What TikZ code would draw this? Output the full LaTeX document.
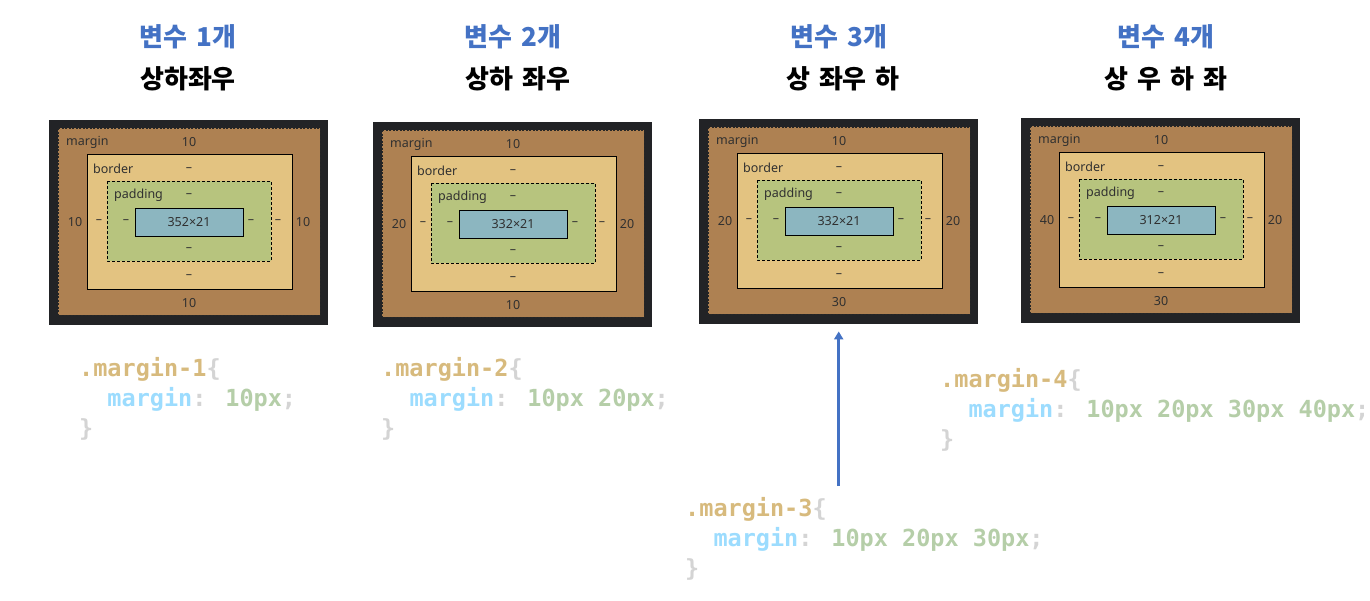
\documentclass[tikz,border=0pt]{standalone}
\usepackage{fontspec}
\setmainfont{Noto Sans}
\newfontfamily\kofont[WordSpace=1.5]{Noto Sans CJK KR}
\newfontfamily\codefont{DejaVu Sans Mono}
\usetikzlibrary{arrows.meta,positioning}

\definecolor{devdark}{HTML}{222326}
\definecolor{margincol}{HTML}{AE8152}
\definecolor{bordercol}{HTML}{E3C381}
\definecolor{paddingcol}{HTML}{B7C47E}
\definecolor{contentcol}{HTML}{8CB6C0}
\definecolor{boxtext}{HTML}{303030}
\definecolor{headblue}{HTML}{4472C4}
\definecolor{csssel}{HTML}{D7BA7D}
\definecolor{cssprop}{HTML}{9CDCFE}
\definecolor{cssnum}{HTML}{B5CEA8}
\definecolor{csspunct}{HTML}{D4D4D4}

\newcommand{\cssSel}[1]{\textcolor{csssel}{#1}}
\newcommand{\cssProp}[1]{\textcolor{cssprop}{#1}}
\newcommand{\cssNum}[1]{\textcolor{cssnum}{#1}}
\newcommand{\cssPunct}[1]{\textcolor{csspunct}{#1}}

\begin{document}
\begin{tikzpicture}[
    x=1pt, y=-1pt,
    darkbox/.style={fill=devdark, minimum width=279pt, minimum height=205pt, inner sep=0pt},
    marginbox/.style={fill=margincol, draw=black!85, dash pattern=on 2pt off 1.5pt, line width=0.8pt},
    borderbox/.style={fill=bordercol, draw=black, line width=0.9pt},
    paddingbox/.style={fill=paddingcol, draw=black, dash pattern=on 3pt off 2pt, line width=0.8pt},
    contentbox/.style={fill=contentcol, draw=black, line width=0.9pt},
    lbl/.style={font=\fontsize{12.5}{14}\selectfont, text=boxtext, inner sep=0pt},
    headnum/.style={font=\kofont\bfseries\fontsize{26}{30}\selectfont, text=headblue, inner sep=0pt},
    headdir/.style={font=\kofont\bfseries\fontsize{26}{30}\selectfont, text=black, inner sep=0pt},
    code/.style={font=\codefont\bfseries\fontsize{23.5}{30}\selectfont, align=left, inner sep=0pt, anchor=north west},
    pointer/.style={-{Triangle[width=9pt,length=8pt]}, line width=3pt, draw=headblue}
]
\useasboundingbox (0,0) rectangle (1370,600);

% Headings
\node[headnum] (num1) at (188,37) {변수 1개};
\node[headnum] (num2) at (513,37) {변수 2개};
\node[headnum] (num3) at (839,37) {변수 3개};
\node[headnum] (num4) at (1166,37) {변수 4개};

\node[headdir] (dir1) at (188,79) {상하좌우};
\node[headdir] (dir2) at (518,79) {상하 좌우};
\node[headdir] (dir3) at (843,79) {상 좌우 하};
\node[headdir] (dir4) at (1166,79) {상 우 하 좌};

% Box model panels
\foreach \n/\X/\Y/\pT/\pR/\pB/\pL/\cw in {1/49/120/10/10/10/10/352, 2/373/122/10/20/10/20/332,
                                          3/699/119/10/20/30/20/332, 4/1021/118/10/20/30/40/312}{
  \begin{scope}[shift={(\X,\Y)}]
    \node[darkbox, anchor=north west] (box\n) at (0,0) {};
    \draw[marginbox] (9,8) rectangle (271,195);
    \draw[borderbox] (38,34) rectangle (243,169);
    \draw[paddingbox] (58,61) rectangle (222,141);
    \draw[contentbox] (86,88) rectangle (194,116);
    % layer names
    \node[lbl, anchor=west] (mname\n) at (17,22) {margin};
    \node[lbl, anchor=west] (bname\n) at (44,49) {border};
    \node[lbl, anchor=west] (pname\n) at (65,75) {padding};
    % margin values
    \node[lbl] (mtop\n) at (140,22) {\pT};
    \node[lbl] (mbot\n) at (140,183) {\pB};
    \node[lbl] (mleft\n) at (26,102) {\pL};
    \node[lbl] (mright\n) at (254,102) {\pR};
    % border and padding values
    \node[lbl] (btop\n) at (140,50) {–};
    \node[lbl] (bbot\n) at (140,157) {–};
    \node[lbl] (bleft\n) at (50,102) {–};
    \node[lbl] (bright\n) at (229,102) {–};
    \node[lbl] (ptop\n) at (140,76) {–};
    \node[lbl] (pbot\n) at (140,130) {–};
    \node[lbl] (pleft\n) at (77,102) {–};
    \node[lbl] (pright\n) at (202,102) {–};
    % content size
    \node[lbl] (size\n) at (140,102) {\cw×21};
  \end{scope}
}

% CSS code
\node[code] (code1) at (79,357) {\cssSel{.margin-1}\cssPunct{\{}\\
  \phantom{mm}\cssProp{margin}\cssPunct{:} \cssNum{10px}\cssPunct{;}\\
  \cssPunct{\}}};
\node[code] (code2) at (381,357) {\cssSel{.margin-2}\cssPunct{\{}\\
  \phantom{mm}\cssProp{margin}\cssPunct{:} \cssNum{10px 20px}\cssPunct{;}\\
  \cssPunct{\}}};
\node[code] (code3) at (685,497) {\cssSel{.margin-3}\cssPunct{\{}\\
  \phantom{mm}\cssProp{margin}\cssPunct{:} \cssNum{10px 20px 30px}\cssPunct{;}\\
  \cssPunct{\}}};
\node[code] (code4) at (940,368) {\cssSel{.margin-4}\cssPunct{\{}\\
  \phantom{mm}\cssProp{margin}\cssPunct{:} \cssNum{10px 20px 30px 40px}\cssPunct{;}\\
  \cssPunct{\}}};

% Pointer to the three-value case
\draw[pointer, shorten <=11pt, shorten >=7pt] (code3.north -| box3.south) -- (box3.south);

\end{tikzpicture}
\end{document}
